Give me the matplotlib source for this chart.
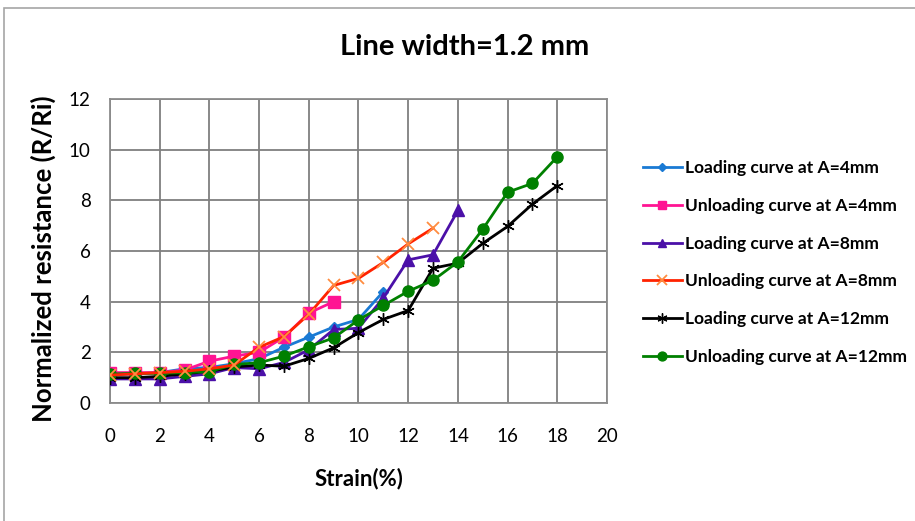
import matplotlib
matplotlib.use("Agg")
import matplotlib.pyplot as plt
from matplotlib.patches import Rectangle

plt.rcParams["font.family"] = ["Lato", "DejaVu Sans"]

# strain (%) for each curve
x_load4 = list(range(0, 12))
x_unload4 = list(range(0, 10))
x_load8 = list(range(0, 15))
x_unload8 = list(range(0, 14))
x_load12 = list(range(0, 19))
x_unload12 = list(range(0, 19))

# normalized resistance R/Ri
load4 = [1.1, 1.15, 1.2, 1.35, 1.4, 1.55, 1.75, 2.2, 2.6, 3.0, 3.3, 4.4]
unload4 = [1.2, 1.2, 1.2, 1.3, 1.65, 1.85, 2.0, 2.6, 3.55, 4.0]
load8 = [0.95, 0.95, 0.95, 1.05, 1.15, 1.4, 1.35, 1.6, 2.1, 2.9, 2.95, 4.15, 5.65, 5.85, 7.6]
unload8 = [1.1, 1.15, 1.2, 1.25, 1.35, 1.5, 2.2, 2.62, 3.5, 4.64, 4.92, 5.55, 6.28, 6.9]
load12 = [1.0, 1.0, 1.05, 1.15, 1.25, 1.42, 1.5, 1.45, 1.76, 2.18, 2.78, 3.3, 3.65, 5.32, 5.52, 6.3, 6.97, 7.85, 8.58]
unload12 = [1.14, 1.17, 1.17, 1.2, 1.24, 1.52, 1.59, 1.85, 2.22, 2.57, 3.28, 3.85, 4.41, 4.84, 5.57, 6.86, 8.32, 8.67, 9.72]

labels = ["Loading curve at A=4mm", "Unloading curve at A=4mm",
          "Loading curve at A=8mm", "Unloading curve at A=8mm",
          "Loading curve at A=12mm", "Unloading curve at A=12mm"]

fig = plt.figure(figsize=(9.15, 5.21), dpi=100)
ax = fig.add_axes([0.1202, 0.2265, 0.5432, 0.5835])

# outer chart frame
fig.patches.append(Rectangle((4 / 915, -0.05), 1.0, (521 - 8) / 521 + 0.05,
                             transform=fig.transFigure, fill=False,
                             edgecolor="#a6a6a6", linewidth=1.2))

lw = 2.0
ax.plot(x_load4, load4, color="#1a7ad4", lw=lw, marker="D", ms=5, label=labels[0], zorder=3)
ax.plot(x_unload4, unload4, color="#ff1493", lw=lw, marker="s", ms=8, label=labels[1], zorder=3)
ax.plot(x_load8, load8, color="#4b10a8", lw=lw, marker="^", ms=8, label=labels[2], zorder=3)
ax.plot(x_unload8, unload8, color="#ff2200", lw=lw, marker="x", ms=9, mew=1.3,
        mec="#ff8c40", label=labels[3], zorder=4)
ax.plot(x_load12, load12, color="black", lw=lw, marker=(6, 2, 0), ms=9, mew=1.0,
        label=labels[4], zorder=3)
ax.plot(x_unload12, unload12, color="#008000", lw=lw, marker="o", ms=8, label=labels[5], zorder=3)

ax.set_xlim(0, 20)
ax.set_ylim(0, 12)
ax.set_xticks(range(0, 21, 2))
ax.set_yticks(range(0, 13, 2))
ax.grid(True, color="#7f7f7f", lw=1.3)
ax.set_axisbelow(True)
for s in ax.spines.values():
    s.set_color("#8c8c8c")
    s.set_linewidth(1.3)
ax.tick_params(length=0, labelsize=13.5)
ax.tick_params(axis="x", pad=18)
ax.tick_params(axis="y", pad=14)

ax.set_xlabel("Strain(%)", fontsize=16, fontweight="bold", labelpad=16)
ax.set_ylabel("Normalized resistance (R/Ri)", fontsize=18.5, fontweight="bold")
ax.yaxis.set_label_coords(-0.108, 0.475)
fig.text(0.508, 0.91, "Line width=1.2 mm", ha="center", va="center",
         fontsize=21, fontweight="bold")

ax.legend(loc="upper left", bbox_to_anchor=(1.04, 0.85), frameon=False,
          prop={"weight": "bold", "size": 12.5}, labelspacing=1.25,
          handlelength=2.3, handletextpad=0.15, markerscale=0.8)

fig.savefig("out.png", dpi=100)
